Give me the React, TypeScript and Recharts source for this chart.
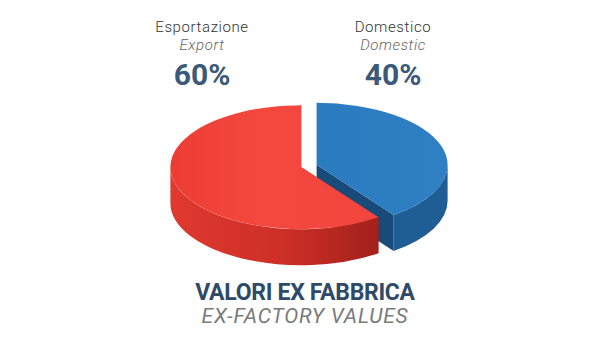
import { PieChart, Pie } from "recharts";

// share of ex-factory values
const names = ["Domestico", "Esportazione"];
const subNames = ["Domestic", "Export"];
const shares = [40, 60];

const TILT = 0.473;
const DEPTH = 36;
const EXPLODE = 8;

const palette = [
  { top: "url(#blueTop)", side: "#1f5e95", cut: "#184b79" },
  { top: "url(#redTop)", side: "url(#redSide)", cut: "#9c1f1a" },
];

const data = names.map((n, i) => ({ name: n, sub: subNames[i], value: shares[i] }));

const rad = (a: number) => (a * Math.PI) / 180;

function Slice3D(props: any) {
  const { cx, cy, outerRadius, startAngle, endAngle, index } = props;
  const rx = outerRadius;
  const ry = outerRadius * TILT;
  const lo = Math.min(startAngle, endAngle);
  const hi = Math.max(startAngle, endAngle);
  const mid = (lo + hi) / 2;
  const ox = cx + EXPLODE * Math.cos(rad(mid));
  const oy = cy - EXPLODE * Math.sin(rad(mid)) * TILT;
  const pt = (a: number) => [ox + rx * Math.cos(rad(a)), oy - ry * Math.sin(rad(a))];
  const col = palette[index % palette.length];

  const [sx, sy] = pt(lo);
  const [ex, ey] = pt(hi);
  const large = hi - lo > 180 ? 1 : 0;
  const top = `M${ox},${oy} L${sx},${sy} A${rx},${ry} 0 ${large} 0 ${ex},${ey} Z`;

  const cutFace = (a: number) => {
    const [x, y] = pt(a);
    return `M${ox},${oy} L${x},${y} L${x},${y + DEPTH} L${ox},${oy + DEPTH} Z`;
  };

  // visible part of the rim: lower half of the ellipse
  const rims: string[] = [];
  for (const k of [-360, 0, 360]) {
    const a1 = Math.max(lo, 180 + k);
    const a2 = Math.min(hi, 360 + k);
    if (a2 > a1) {
      const [x1, y1] = pt(a1);
      const [x2, y2] = pt(a2);
      const lg = a2 - a1 > 180 ? 1 : 0;
      rims.push(
        `M${x1},${y1} A${rx},${ry} 0 ${lg} 0 ${x2},${y2} L${x2},${y2 + DEPTH} A${rx},${ry} 0 ${lg} 1 ${x1},${y1 + DEPTH} Z`
      );
    }
  }

  return (
    <g>
      <path d={cutFace(lo)} fill={col.cut} />
      <path d={cutFace(hi)} fill={col.cut} />
      {rims.map((d, i) => (
        <path key={i} d={d} fill={col.side} />
      ))}
      <path d={top} fill={col.top} />
    </g>
  );
}

const labelX = [393, 202];

export default function App() {
  return (
    <div
      style={{
        position: "fixed",
        left: 0,
        top: 0,
        width: 610,
        height: 344,
        background: "#fff",
        fontFamily: "Roboto, sans-serif",
      }}
    >
      <PieChart width={610} height={344}>
        <defs>
          <linearGradient id="redTop" x1="0" y1="0" x2="1" y2="0">
            <stop offset="0%" stopColor="#ec3d33" />
            <stop offset="45%" stopColor="#f4483f" />
            <stop offset="100%" stopColor="#f2453d" />
          </linearGradient>
          <linearGradient id="redSide" x1="0" y1="0" x2="1" y2="0">
            <stop offset="0%" stopColor="#e0392f" />
            <stop offset="55%" stopColor="#cc2f27" />
            <stop offset="100%" stopColor="#a3201b" />
          </linearGradient>
          <linearGradient id="blueTop" x1="0" y1="0" x2="1" y2="0">
            <stop offset="0%" stopColor="#2a7cc0" />
            <stop offset="100%" stopColor="#2e80c3" />
          </linearGradient>
        </defs>
        <Pie
          data={data}
          dataKey="value"
          nameKey="name"
          cx={304}
          cy={161}
          outerRadius={131}
          startAngle={90}
          endAngle={-270}
          stroke="none"
          shape={Slice3D}
          isAnimationActive={false}
        />
      </PieChart>

      {data.map((d, i) => (
        <div
          key={d.name}
          style={{
            position: "absolute",
            left: labelX[i] - 80,
            width: 160,
            top: 20,
            textAlign: "center",
            lineHeight: 1,
          }}
        >
          <div style={{ fontSize: 15, color: "#333", fontWeight: 300, letterSpacing: 0.6 }}>{d.name}</div>
          <div
            style={{
              fontSize: 15,
              color: "#666",
              fontStyle: "italic",
              fontWeight: 300,
              letterSpacing: 0.6,
              marginTop: 3,
            }}
          >
            {d.sub}
          </div>
          <div style={{ fontSize: 30, color: "#3b5978", fontWeight: 700, marginTop: 7 }}>{d.value}%</div>
        </div>
      ))}

      <div
        style={{
          position: "absolute",
          left: 0,
          width: 610,
          top: 281,
          textAlign: "center",
          lineHeight: 1,
        }}
      >
        <div style={{ fontSize: 23, fontWeight: 700, color: "#2e4a68", letterSpacing: -0.3 }}>
          VALORI EX FABBRICA
        </div>
        <div style={{ fontSize: 21, fontStyle: "italic", color: "#7a7a7a", letterSpacing: 0.8, marginTop: 2 }}>
          EX-FACTORY VALUES
        </div>
      </div>
    </div>
  );
}
